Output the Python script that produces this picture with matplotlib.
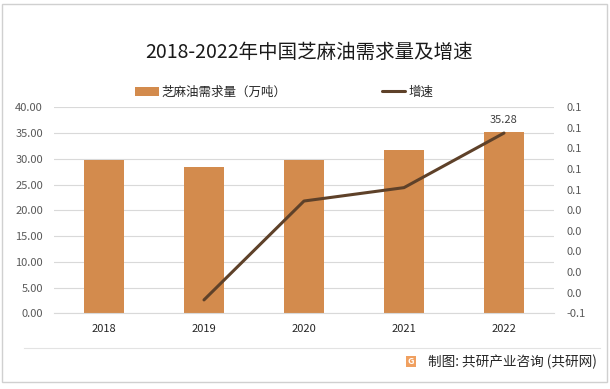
import numpy as np
import matplotlib.pyplot as plt
from matplotlib.ticker import FuncFormatter, MultipleLocator
from matplotlib.patches import Rectangle

plt.rcParams['font.family'] = ['Noto Sans CJK SC', 'DejaVu Sans']

# data
years = ['2018', '2019', '2020', '2021', '2022']
demand = [29.75, 28.35, 29.7, 31.65, 35.28]       # 万吨
growth = [None, -0.047, 0.049, 0.062, 0.115]        # 增速

bar_color = '#D38B4D'
line_color = '#5E4129'
grid_color = '#D9D9D9'
tick_color = '#595959'

fig = plt.figure(figsize=(6.1, 3.89), dpi=100)
ax = fig.add_axes([0.0885, 0.1946, 0.8197, 0.5296])
ax2 = ax.twinx()

x = np.arange(len(years))
ax.bar(x, demand, width=0.4, color=bar_color, zorder=2, label='芝麻油需求量（万吨）')
ax.text(x[-1], demand[-1] + 1.3, f'{demand[-1]:.2f}', ha='center', va='bottom',
        fontsize=8, color='#404040')

gx = [i for i, g in zip(x, growth) if g is not None]
gy = [g for g in growth if g is not None]
ax2.plot(gx, gy, color=line_color, lw=2.2, zorder=3, label='增速', solid_capstyle='round')

ax.set_xlim(-0.5, 4.5)
ax.set_ylim(0, 40)
ax.yaxis.set_major_locator(MultipleLocator(5))
ax.yaxis.set_major_formatter(FuncFormatter(lambda v, p: f'{v:.2f}'))
ax2.set_ylim(-0.06, 0.14)
ax2.set_yticks(np.linspace(-0.06, 0.14, 11))

def right_fmt(v, p):
    s = f'{v:.1f}'
    return '0.0' if s == '-0.0' else s

ax2.yaxis.set_major_formatter(FuncFormatter(right_fmt))

ax.set_xticks(x)
ax.set_xticklabels(years)
ax.grid(axis='y', color=grid_color, lw=0.8, zorder=0)
ax.set_axisbelow(True)
for a in (ax, ax2):
    for s in a.spines.values():
        s.set_visible(False)
    a.tick_params(length=0)
ax.spines['bottom'].set_visible(True)
ax.spines['bottom'].set_color(grid_color)
ax.tick_params(axis='y', labelsize=8, labelcolor=tick_color, pad=8)
ax.tick_params(axis='x', labelsize=8, labelcolor='#262626', pad=8)
ax2.tick_params(axis='y', labelsize=8, labelcolor=tick_color, pad=9)

fig.text(0.506, 0.866, '2018-2022年中国芝麻油需求量及增速', ha='center', va='center',
         fontsize=14, color='#1a1a1a')

h1, l1 = ax.get_legend_handles_labels()
h2, l2 = ax2.get_legend_handles_labels()
fig.legend(h1 + h2, l1 + l2, loc='center left', bbox_to_anchor=(0.221, 0.763), ncol=2,
           frameon=False, fontsize=9, columnspacing=7.6, handlelength=1.9,
           handletextpad=0.25, labelcolor='#262626', borderpad=0, borderaxespad=0)

# footer
fig.add_artist(plt.Line2D([0.039, 0.984], [0.1054, 0.1054], color='#E3E3E3', lw=0.8))
fig.add_artist(Rectangle((0.6656, 0.056), 0.016, 0.028, transform=fig.transFigure,
                         color='#F0A060', lw=0))
fig.text(0.6736, 0.070, 'G', ha='center', va='center', fontsize=6.5, color='white',
         fontweight='bold')
fig.text(0.7016, 0.069, '制图: 共研产业咨询 (共研网)', ha='left', va='center',
         fontsize=9.8, color='#262626')

# outer border
fig.add_artist(Rectangle((0.0033, 0.018), 0.9917, 0.9717, transform=fig.transFigure,
                         fill=False, edgecolor='#D0D0D0', lw=1))

fig.savefig('out.png', dpi=100)
